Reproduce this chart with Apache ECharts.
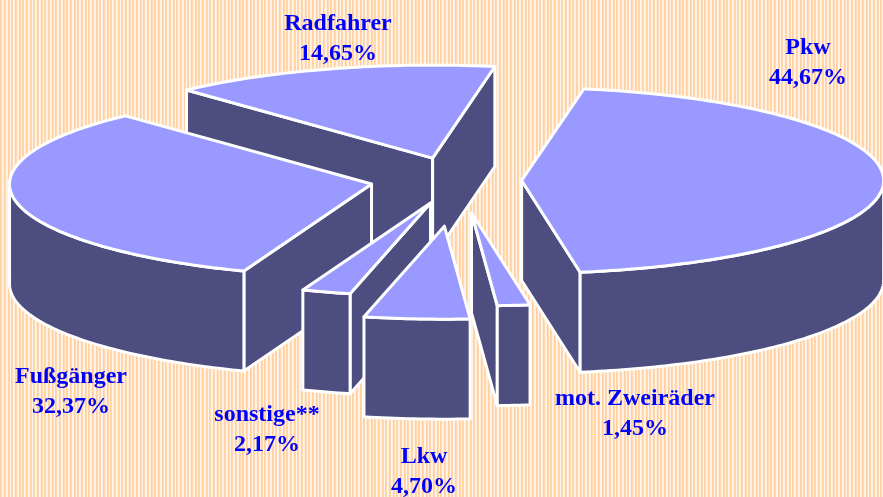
<!DOCTYPE html>
<html><head><meta charset="utf-8">
<style>html,body{margin:0;padding:0;background:#fff}#c{width:883px;height:497px}</style>
<script src="https://cdn.jsdelivr.net/npm/echarts@6/dist/echarts.min.js"></script>
</head><body><div id="c"></div>
<script>
// Draw order is back to front, values run clockwise from Pkw.
const categories = ['Radfahrer','Pkw','mot. Zweiräder','Lkw','sonstige**','Fußgänger'];
const shares     = [14.65, 44.67, 1.45, 4.70, 2.17, 32.37];
const valueLabels= ['14,65%','44,67%','1,45%','4,70%','2,17%','32,37%'];
const explode    = [0.262, 0.172, 0.340, 0.482, 0.2445, 0.2445];
const explodeTurn= [0, -4, 1.1, 0.6, 2.4, 4.7];
const clockwiseOrder = [1,2,3,4,5,0];
const paintOrder = [0,1,5,4,3,2];
const labelAnchors = [[338,38.5],[808,63],[635,414],[424,472],[267,429.5],[71,392]];

const START_DEG=-80.1, RX=362, RY=93, DEPTH=100, CX=459.5, CY=181.5;
const total = shares.reduce((a,b)=>a+b,0);
const range={};
(function(){let a=START_DEG;clockwiseOrder.forEach(i=>{const s=shares[i]/total*360;range[i]=[a,a+s];a+=s;});})();
const rad=d=>d*Math.PI/180;

function renderItem(params, api){
  const idx=api.value(0), ex=api.value(2), turn=api.value(3);
  const [a,b]=range[idx];
  const mid=rad((a+b)/2+turn);
  const ax=CX+ex*RX*Math.cos(mid), ay=CY+ex*RY*Math.sin(mid);
  const pt=d=>[ax+RX*Math.cos(rad(d)),ay+RY*Math.sin(rad(d))];
  const arc=(p,q)=>{const n=Math.max(2,Math.ceil(Math.abs(q-p)));const r=[];for(let i=0;i<=n;i++)r.push(pt(p+(q-p)*i/n));return r;};
  const down=p=>[p[0],p[1]+DEPTH];
  const style=(f)=>({fill:f,stroke:'#fff',lineWidth:3,lineJoin:'round'});
  const children=[];
  const wall=pts=>children.push({type:'polygon',shape:{points:pts},style:style('#4D4D80')});
  // radial walls that face the viewer
  if(Math.cos(rad(a))<0){const e=pt(a);wall([[ax,ay],e,down(e),[ax,ay+DEPTH]]);}
  if(Math.cos(rad(b))>0){const e=pt(b);wall([[ax,ay],e,down(e),[ax,ay+DEPTH]]);}
  // outer wall: only the front half of the rim is visible
  for(const k of [-360,0,360]){
    const p=Math.max(a,k),q=Math.min(b,k+180);
    if(q>p){const t=arc(p,q);wall(t.concat(t.slice().reverse().map(down)));}
  }
  // top face
  children.push({type:'polygon',shape:{points:[[ax,ay]].concat(arc(a,b))},style:style('#9999FF')});
  return {type:'group',children};
}

const stripe=document.createElement('canvas');stripe.width=11;stripe.height=4;
(function(){const g=stripe.getContext('2d');
  ['#FFD0A0','#FFD8B0','#FFF4EA','#FFEFE0','#FFD0A0','#FFD8B0','#FFF4EA','#FFEFE0','#FFD0A0','#FFD8B0','#FFF4EA'].forEach((c,i)=>{g.fillStyle=c;g.fillRect(i,0,1,4);});})();

const chart=echarts.init(document.getElementById('c'),null,{renderer:'canvas'});
chart.setOption({
  animation:false,
  backgroundColor:{image:stripe,repeat:'repeat'},
  xAxis:{show:false},yAxis:{show:false},
  series:[{type:'custom',coordinateSystem:'none',renderItem,silent:true,
    encode:{value:1},
    data:paintOrder.map(i=>[i,shares[i],explode[i],explodeTurn[i]])}],
  graphic:categories.map((c,i)=>({type:'text',x:labelAnchors[i][0],y:labelAnchors[i][1],z:10,
    style:{text:c+'\n'+valueLabels[i],fill:'#0000FF',align:'center',verticalAlign:'middle',
      font:'bold 24px "Liberation Serif"',lineHeight:30}}))
});
</script></body></html>
